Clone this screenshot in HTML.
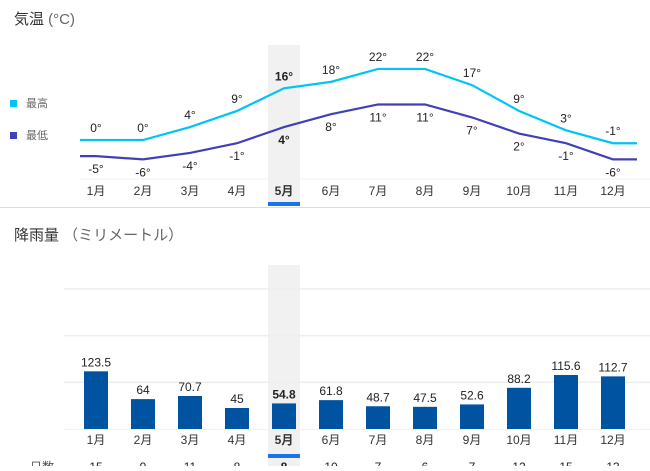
<!DOCTYPE html>
<html><head><meta charset="utf-8">
<style>
body{margin:0;width:650px;height:466px;overflow:hidden;background:#fff;font-family:"Liberation Sans","Noto Sans CJK JP",sans-serif;}
svg text{font-family:"Liberation Sans","Noto Sans CJK JP",sans-serif;}
</style></head>
<body>
<svg id="c" width="650" height="466" xmlns="http://www.w3.org/2000/svg">
<text x="14" y="24" font-size="15" fill="#333">気温 <tspan fill="#666">(°C)</tspan></text>
<rect x="268" y="45" width="32" height="158" fill="#f1f1f1"/>
<rect x="268" y="202" width="32" height="4" fill="#1a73e8"/>
<line x1="80" y1="179" x2="650" y2="179" stroke="#f2f2f2"/>
<line x1="0" y1="207.5" x2="650" y2="207.5" stroke="#ddd"/>
<rect x="10" y="100" width="7" height="7" fill="#00c4f5"/>
<text x="26" y="107" font-size="11" fill="#666">最高</text>
<rect x="10" y="132" width="7" height="7" fill="#4040b8"/>
<text x="26" y="139" font-size="11" fill="#666">最低</text>
<g id="temp"></g>
<text x="14" y="240" font-size="15" fill="#333">降雨量 <tspan fill="#666">（ミリメートル）</tspan></text>
<rect x="268" y="265" width="32" height="201" fill="#f1f1f1"/>
<rect x="268" y="454" width="32" height="4" fill="#1a73e8"/>
<g id="rain"></g>
<text x="30" y="471" font-size="12" fill="#555">日数</text>
</svg>
<script>
const months=["1月","2月","3月","4月","5月","6月","7月","8月","9月","10月","11月","12月"];
const highs=[0,0,4,9,16,18,22,22,17,9,3,-1];
const lows=[-5,-6,-4,-1,4,8,11,11,7,2,-1,-6];
const rain=[123.5,64,70.7,45,54.8,61.8,48.7,47.5,52.6,88.2,115.6,112.7];
const rainLabels=["123.5","64","70.7","45","54.8","61.8","48.7","47.5","52.6","88.2","115.6","112.7"];
const days=[15,9,11,8,8,10,7,6,7,12,15,13];
const gridTicks=[100,200,300];
const sel=4;
const NS="http://www.w3.org/2000/svg";
const xs=i=>96+i*47;
const yT=t=>140-3.23*t;
const yR=v=>429-0.467*v;
function mk(tag,attrs,parent,text){const e=document.createElementNS(NS,tag);for(const k in attrs)e.setAttribute(k,attrs[k]);if(text!==undefined)e.textContent=text;parent.appendChild(e);return e;}
const tg=document.getElementById('temp');
function series(vals,color,name){
  let d="M80 "+yT(vals[0]);
  vals.forEach((v,i)=>{d+=" L"+xs(i)+" "+yT(v);});
  d+=" L637 "+yT(vals[vals.length-1]);
  const p=mk('path',{d:d,fill:"none",stroke:color,"stroke-width":2.2},tg);
  
  
}
series(highs,"#00c4f5","high-temp-line");
series(lows,"#4040b8","low-temp-line");
months.forEach((m,i)=>{
  const b=i===sel?"bold":"normal";
  const h=mk('text',{x:xs(i),y:yT(highs[i])-8,"font-size":12,"text-anchor":"middle",fill:"#222","font-weight":b},tg,highs[i]+"°");
  
  
  const l=mk('text',{x:xs(i),y:yT(lows[i])+17,"font-size":12,"text-anchor":"middle",fill:"#222","font-weight":b},tg,lows[i]+"°");
  
  
  const t=mk('text',{x:xs(i),y:195,"font-size":12,"text-anchor":"middle",fill:"#333","font-weight":b},tg,m);
  
  
});
const rg=document.getElementById('rain');
gridTicks.forEach(v=>{
  const l=mk('line',{x1:64,x2:650,y1:yR(v),y2:yR(v),stroke:"#eee","stroke-width":1.5},rg);
  
  
});
const base=mk('line',{x1:64,x2:650,y1:429.5,y2:429.5,stroke:"#f2f2f2"},rg);


months.forEach((m,i)=>{
  const b=i===sel?"bold":"normal";
  const r=mk('rect',{x:xs(i)-12,y:yR(rain[i]),width:24,height:429-yR(rain[i]),fill:"#0053a0"},rg);
  
  
  const v=mk('text',{x:xs(i),y:yR(rain[i])-5,"font-size":12,"text-anchor":"middle",fill:"#222","font-weight":b},rg,rainLabels[i]);
  
  
  const t=mk('text',{x:xs(i),y:444,"font-size":12,"text-anchor":"middle",fill:"#333","font-weight":b},rg,m);
  
  
  const d=mk('text',{x:xs(i),y:471,"font-size":12,"text-anchor":"middle",fill:"#222","font-weight":b},rg,days[i]);
  
  
});
</script>
</body></html>
